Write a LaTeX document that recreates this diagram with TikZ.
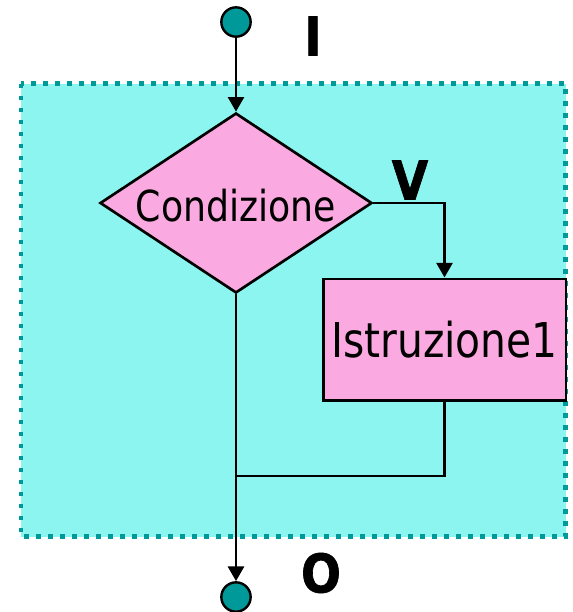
\documentclass[tikz,border=0pt]{standalone}
\usepackage{fontspec}
\setmainfont[FakeStretch=0.85]{DejaVu Sans}
\newfontfamily\heavyfont[FakeStretch=0.88, FakeBold=1.2]{DejaVu Sans Bold}
\usetikzlibrary{arrows.meta, shapes.geometric}
\definecolor{bgcyan}{RGB}{140,245,240}
\definecolor{pinkbox}{RGB}{250,170,224}
\definecolor{tealdot}{RGB}{0,153,153}

\begin{document}
\begin{tikzpicture}[x=0.75pt, y=-0.75pt, >={Triangle[width=12pt,length=11pt]},
  flow/.style={line width=2pt},
  cond/.style={diamond, draw, line width=2pt, fill=pinkbox, inner sep=0pt, aspect=1.5,
    text height=27pt, text depth=0pt,
    minimum width=204pt, minimum height=135pt, font=\fontsize{32}{36}\selectfont},
  instr/.style={rectangle, draw, line width=2pt, fill=pinkbox, inner sep=0pt,
    minimum width=182pt, minimum height=91pt, font=\fontsize{36}{40}\selectfont},
  term/.style={circle, draw, line width=1.8pt, fill=tealdot, minimum size=22pt, inner sep=0pt},
  lbl/.style={font=\fontsize{40}{44}\heavyfont}]
  \useasboundingbox (0,0) rectangle (573,612);
  % block area
  \fill[bgcyan] (21,83.5) rectangle (565.5,536.5);
  \draw[tealdot, line width=3.6pt, dash pattern=on 3.6pt off 5.4pt] (21,83.5) rectangle (565.5,536.5);
  % entry / exit points
  \node[term] (in) at (236,22) {};
  \node[lbl] (lblI) at (313,36) {I};
  \node[term] (out) at (236,597) {};
  \node[lbl] (lblO) at (321,573) {O};
  % condition and true branch
  \node[cond] (cond) at (236,203) {Condizione};
  \node[lbl] (lblV) at (410,180) {V};
  \node[instr] (istr) at (444.5,339.5) {Istruzione1};
  \coordinate (join) at (236,476);
  % connectors
  \draw[flow, ->] (in) -- (cond);
  \draw[flow, ->] (cond.east) -| (istr.north);
  \draw[flow] (istr.south) |- (join);
  \draw[flow, ->] (cond.south) -- (out);
\end{tikzpicture}
\end{document}
